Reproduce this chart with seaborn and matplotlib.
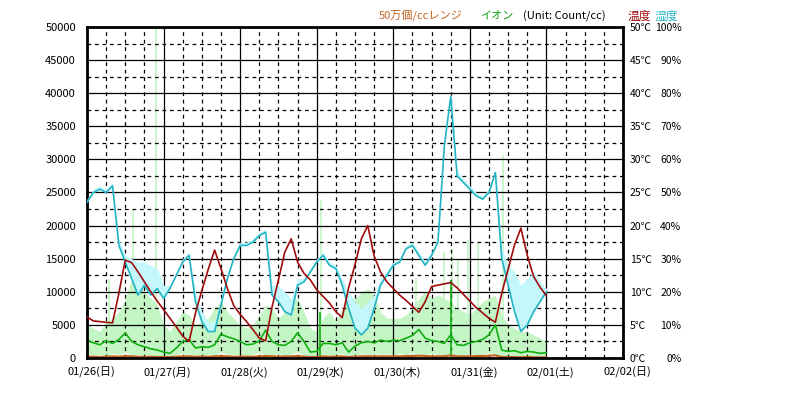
import numpy as np
import pandas as pd
import matplotlib
matplotlib.use('Agg')
import matplotlib.pyplot as plt
import matplotlib.transforms as mtransforms
from matplotlib.ticker import MultipleLocator
import seaborn as sns

# 2-hour samples starting 01/26 00:00
hours = list(range(0, 145, 2))

date_labels = ['01/26(日)', '01/27(月)', '01/28(火)', '01/29(水)',
               '01/30(木)', '01/31(金)', '02/01(土)', '02/02(日)']

temp_c = [6.2, 5.6, 5.5, 5.4, 5.3, 9.8, 14.8, 14.4, 13.0, 11.5, 10.0, 8.6,
          7.3, 6.0, 4.7, 3.3, 2.5, 6.8, 10.2, 13.4, 16.3, 13.5, 10.5, 7.9,
          6.6, 5.5, 4.3, 3.0, 2.6, 7.7, 11.8, 16.0, 18.0, 14.5, 12.8, 11.8,
          10.3, 9.3, 8.3, 7.0, 6.1, 10.6, 14.1, 18.0, 20.0, 15.4, 13.0, 11.5,
          10.5, 9.5, 8.7, 7.8, 6.9, 8.5, 10.8, 11.0, 11.2, 11.4, 10.6, 9.6,
          8.6, 7.6, 6.8, 6.0, 5.4, 9.8, 13.4, 17.1, 19.6, 15.5, 12.3, 10.7,
          9.4]

humid_pct = [47, 50, 51, 50, 52, 34, 29, 24, 19, 22, 19, 21,
             18, 21, 25, 29, 31, 17, 11, 8, 8, 16, 24, 30,
             34, 34, 35, 37, 38, 19, 17, 14, 13, 22, 23, 26,
             29, 31, 28, 27, 22, 15, 9, 7, 9, 15, 22, 25,
             28, 29, 33, 34, 31, 28, 31, 35, 64, 79, 55, 53,
             51, 49, 48, 50, 56, 30, 22, 14, 8, 10, 14, 17,
             20]

humid_hi_pct = [48, 51, 52, 51, 53, 36, 31, 30, 29, 29, 28, 27,
                22, 22, 26, 30, 32, 20, 14, 11, 11, 18, 25, 31,
                35, 35, 36, 38, 39, 22, 22, 20, 18, 24, 24, 27,
                30, 32, 29, 28, 24, 20, 17, 15, 17, 19, 24, 26,
                29, 30, 34, 35, 32, 29, 32, 36, 66, 80, 57, 54,
                52, 50, 49, 51, 57, 33, 28, 26, 22, 24, 26, 23,
                21]

ion = [2700, 2300, 2000, 2600, 2200, 2800, 3800, 2500, 2000, 1700, 1400, 1200,
       900, 700, 1500, 2500, 2800, 1500, 1700, 1600, 2000, 3600, 3200, 2900,
       2500, 2000, 2100, 2600, 4200, 2500, 2000, 1900, 2500, 3800, 2500, 900,
       1000, 2200, 2200, 2000, 2300, 900, 1800, 2300, 2500, 2300, 2700, 2500,
       2700, 2600, 3000, 3400, 4300, 3000, 2600, 2500, 2200, 3500, 2000, 1900,
       2300, 2500, 2800, 3500, 5000, 1200, 1000, 1100, 800, 1000, 900, 700,
       800]

ion_hi = [5000, 4500, 4000, 5500, 6000, 7000, 9000, 12000, 11500, 10000, 9000, 8000,
          5000, 4000, 5500, 7000, 6500, 5000, 5500, 6000, 7500, 8500, 7000, 6000,
          5000, 4500, 5000, 6500, 8000, 7500, 6000, 7000, 8500, 9000, 7000, 4500,
          4000, 6000, 7000, 5500, 7500, 9000, 9000, 10000, 10500, 9500, 7000, 6000,
          6000, 6000, 6500, 7500, 9000, 10000, 9000, 9500, 9000, 8500, 7500, 7000,
          6500, 7500, 8500, 9000, 9500, 6500, 5000, 4500, 4000, 4000, 3500, 3000,
          2500]

ion_lo = [600, 400, 500, 300, 700, 500, 900, 400, 600, 300, 500, 200,
          300, 200, 500, 700, 400, 500, 300, 600, 400, 900, 500, 600,
          400, 300, 600, 800, 500, 400, 700, 300, 600, 900, 400, 200,
          300, 600, 500, 300, 700, 200, 500, 600, 400, 700, 500, 600,
          400, 700, 500, 800, 600, 400, 700, 500, 300, 600, 400, 500,
          700, 400, 600, 800, 500, 300, 200, 300, 200, 300, 200, 200,
          200]

# 50万個/cc range trace, hugging the bottom
range50 = [200, 200, 150, 200, 250, 200, 300, 250, 200, 150, 200, 150,
           150, 150, 200, 250, 250, 200, 200, 200, 250, 300, 250, 200,
           200, 200, 200, 250, 300, 250, 200, 250, 250, 300, 200, 150,
           150, 250, 200, 200, 250, 150, 200, 250, 250, 250, 250, 250,
           250, 250, 300, 300, 350, 300, 250, 250, 250, 400, 250, 250,
           250, 300, 300, 350, 400, 150, 150, 150, 100, 150, 100, 100,
           100]

# short bursts
ion_peak_h = [73, 114]
ion_peak_v = [7000, 11800]
raw_spike_h = [7, 14.4, 21.6, 73.2, 103, 112, 114.3, 116.2, 119.3, 122.4, 130.3]
raw_spike_v = [12000, 22400, 50000, 23900, 12100, 16000, 16400, 14800, 17900, 17400, 30700]

sns.set_style('white')
plt.rcParams['font.family'] = ['Noto Sans CJK JP', 'DejaVu Sans']
plt.rcParams['text.color'] = 'black'
plt.rcParams['xtick.color'] = 'black'
plt.rcParams['ytick.color'] = 'black'

df = pd.DataFrame({'day': np.array(hours) / 24, 'temp': temp_c, 'hum': humid_pct,
                   'hum_hi': humid_hi_pct, 'ion': ion, 'ion_hi': ion_hi,
                   'ion_lo': ion_lo, 'range50': range50})

fig = plt.figure(figsize=(7.86, 3.99), dpi=100)
ax = fig.add_axes([87 / 786, 41 / 399, 536 / 786, 331 / 399])

# ion (left axis)
ax.fill_between(df['day'], df['ion_lo'], df['ion_hi'], color='#c4f5c4', lw=0, zorder=1)
ax.vlines(np.array(raw_spike_h) / 24, 0, raw_spike_v, color='#c4f5c4', lw=1.2, zorder=1)
ax.vlines(np.array(ion_peak_h) / 24, 0, ion_peak_v, color='#10b010', lw=1.2, zorder=2)
sns.lineplot(data=df, x='day', y='ion', ax=ax, color='#10b010', lw=1.2, zorder=2)
sns.lineplot(data=df, x='day', y='range50', ax=ax, color='#c0601c', lw=1.5, zorder=2)

ax.set_xlim(0, 7)
ax.set_ylim(0, 50000)
ax.xaxis.set_major_locator(MultipleLocator(1))
ax.xaxis.set_minor_locator(MultipleLocator(0.25))
ax.yaxis.set_major_locator(MultipleLocator(5000))
ax.yaxis.set_minor_locator(MultipleLocator(2500))
ax.set_axisbelow('line')
ax.grid(which='major', color='black', lw=0.9, ls='-')
ax.grid(which='minor', color='black', lw=0.9, ls=(0, (3, 3)))
ax.set_xticks(range(8))
ax.set_xticklabels(date_labels)
ax.set_yticks(range(0, 50001, 5000))
ax.set_yticklabels([str(v) for v in range(0, 50001, 5000)])
ax.tick_params(axis='both', which='both', length=0, labelsize=8, labelcolor='black')
ax.tick_params(axis='y', pad=8)
ax.tick_params(axis='x', pad=6)
ax.set_xlabel('')
ax.set_ylabel('')
for spine in ax.spines.values():
    spine.set_color('black')
    spine.set_linewidth(2)
    spine.set_zorder(10)
shift = mtransforms.ScaledTranslation(4 / 100, 0, fig.dpi_scale_trans)
for lbl in ax.get_xticklabels():
    lbl.set_transform(lbl.get_transform() + shift)

# humidity (right axis, %)
ax_h = ax.twinx()
ax_h.fill_between(df['day'], df['hum'], df['hum_hi'], color='#c4f7fb', lw=0)
sns.lineplot(data=df, x='day', y='hum', ax=ax_h, color='#22b4c4', lw=1.2)
ax_h.set_ylim(0, 100)
ax_h.set_yticks(range(0, 101, 10))
ax_h.set_yticklabels([f'{v}%' for v in range(0, 101, 10)])
ax_h.tick_params(axis='y', length=0, pad=42, labelsize=7.5, labelcolor='black')
for lbl in ax_h.get_yticklabels():
    lbl.set_horizontalalignment('right')
ax_h.set_ylabel('')

# temperature (right axis, ℃)
ax_t = ax.twinx()
sns.lineplot(data=df, x='day', y='temp', ax=ax_t, color='#a00c0c', lw=1.2)
ax_t.set_ylim(0, 50)
ax_t.set_yticks(range(0, 51, 5))
ax_t.set_yticklabels([f'{v}℃' for v in range(0, 51, 5)])
ax_t.tick_params(axis='y', length=0, pad=5, labelsize=7.5, labelcolor='black')
ax_t.set_ylabel('')

for a in (ax_h, ax_t):
    a.set_xlim(0, 7)
    for spine in a.spines.values():
        spine.set_visible(False)
    a.grid(False)

# header labels
fig.text(379 / 786, 1 - 16 / 399, '50万個/ccレンジ', color='#c0601c', fontsize=8, va='center')
fig.text(480 / 786, 1 - 16 / 399, 'イオン', color='#10a010', fontsize=8, va='center')
fig.text(523 / 786, 1 - 16 / 399, '(Unit: Count/cc)', color='black', fontsize=8, va='center')
fig.text(628 / 786, 1 - 16 / 399, '温度', color='#a00c0c', fontsize=8.5, va='center')
fig.text(655 / 786, 1 - 16 / 399, '湿度', color='#22b4c4', fontsize=8.5, va='center')

fig.savefig('out.png', dpi=100)
